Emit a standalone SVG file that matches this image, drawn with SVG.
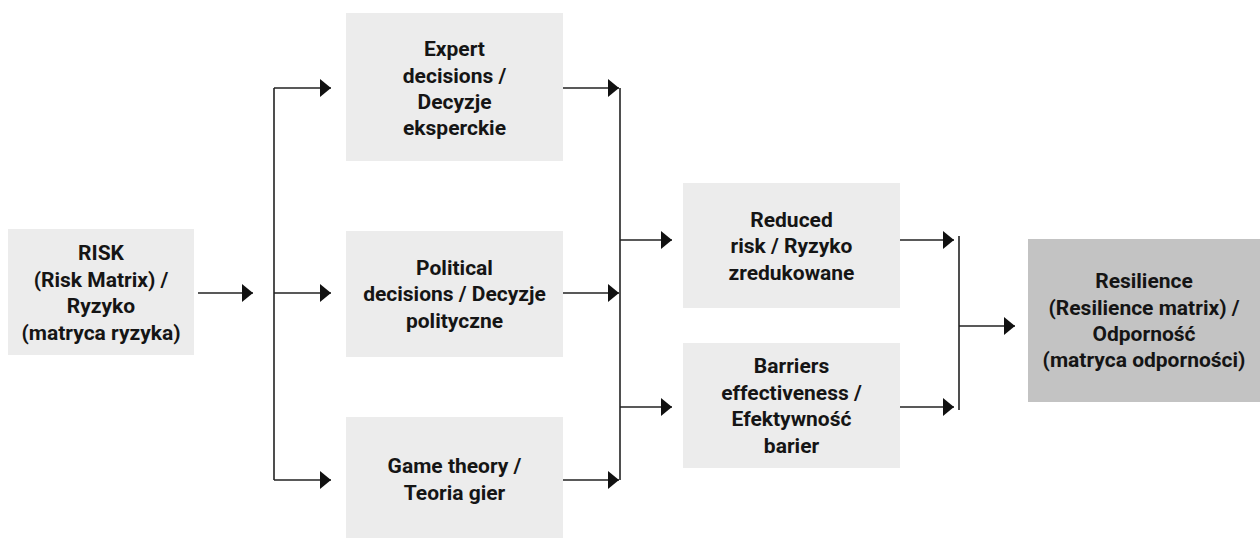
<svg xmlns="http://www.w3.org/2000/svg" width="1260" height="538" viewBox="0 0 1260 538">
  <style>
    .box { fill: #ececec; }
    .box-dark { fill: #c3c3c3; }
    .lbl { font-family: Roboto, "Liberation Sans", sans-serif; font-weight: bold; font-size: 21px; fill: #151515; text-anchor: middle; }
    .wire { fill: none; stroke: #222; stroke-width: 1.6; }
  </style>
  <defs>
    <marker id="arrow" viewBox="0 0 11 18" refX="11" refY="9" markerWidth="11" markerHeight="18" markerUnits="userSpaceOnUse" orient="auto">
      <path d="M0,0 L11,9 L0,18 Z" fill="#111"/>
    </marker>
  </defs>
  <rect width="1260" height="538" fill="#ffffff"/>

  <!-- connectors -->
  <g id="connectors">
    <path class="wire" d="M198,293 H253" marker-end="url(#arrow)"/>
    <path class="wire" d="M274,88 V480"/>
    <path class="wire" d="M274,88 H331" marker-end="url(#arrow)"/>
    <path class="wire" d="M274,293 H331" marker-end="url(#arrow)"/>
    <path class="wire" d="M274,480 H331" marker-end="url(#arrow)"/>
    <path class="wire" d="M563,88 H619" marker-end="url(#arrow)"/>
    <path class="wire" d="M563,293 H619" marker-end="url(#arrow)"/>
    <path class="wire" d="M563,480 H619" marker-end="url(#arrow)"/>
    <path class="wire" d="M620,88 V480"/>
    <path class="wire" d="M620,240 H672" marker-end="url(#arrow)"/>
    <path class="wire" d="M620,407 H672" marker-end="url(#arrow)"/>
    <path class="wire" d="M900,240 H954" marker-end="url(#arrow)"/>
    <path class="wire" d="M900,407 H954" marker-end="url(#arrow)"/>
    <path class="wire" d="M959,236 V410"/>
    <path class="wire" d="M959,326 H1015" marker-end="url(#arrow)"/>
  </g>

  <g id="risk">
    <rect class="box" x="8" y="229" width="186" height="126"/>
    <text class="lbl" x="101" y="260">RISK</text>
    <text class="lbl" x="101" y="287">(Risk Matrix) /</text>
    <text class="lbl" x="101" y="313">Ryzyko</text>
    <text class="lbl" x="101" y="340">(matryca ryzyka)</text>
  </g>

  <g id="expert">
    <rect class="box" x="346" y="13" width="217" height="148"/>
    <text class="lbl" x="454.5" y="56">Expert</text>
    <text class="lbl" x="454.5" y="83">decisions /</text>
    <text class="lbl" x="454.5" y="109">Decyzje</text>
    <text class="lbl" x="454.5" y="135">eksperckie</text>
  </g>

  <g id="political">
    <rect class="box" x="346" y="231" width="217" height="126"/>
    <text class="lbl" x="454.5" y="275">Political</text>
    <text class="lbl" x="454.5" y="301">decisions / Decyzje</text>
    <text class="lbl" x="454.5" y="328">polityczne</text>
  </g>

  <g id="game">
    <rect class="box" x="346" y="417" width="217" height="121"/>
    <text class="lbl" x="454.5" y="473">Game theory /</text>
    <text class="lbl" x="454.5" y="500">Teoria gier</text>
  </g>

  <g id="reduced">
    <rect class="box" x="683" y="183" width="217" height="125"/>
    <text class="lbl" x="791.5" y="227">Reduced</text>
    <text class="lbl" x="791.5" y="253">risk / Ryzyko</text>
    <text class="lbl" x="791.5" y="280">zredukowane</text>
  </g>

  <g id="barriers">
    <rect class="box" x="683" y="343" width="217" height="125"/>
    <text class="lbl" x="791.5" y="373">Barriers</text>
    <text class="lbl" x="791.5" y="400">effectiveness /</text>
    <text class="lbl" x="791.5" y="426">Efektywność</text>
    <text class="lbl" x="791.5" y="453">barier</text>
  </g>

  <g id="resilience">
    <rect class="box-dark" x="1028" y="239" width="232" height="163"/>
    <text class="lbl" x="1144" y="288">Resilience</text>
    <text class="lbl" x="1144" y="315">(Resilience matrix) /</text>
    <text class="lbl" x="1144" y="341">Odporność</text>
    <text class="lbl" x="1144" y="367">(matryca odporności)</text>
  </g>
</svg>
